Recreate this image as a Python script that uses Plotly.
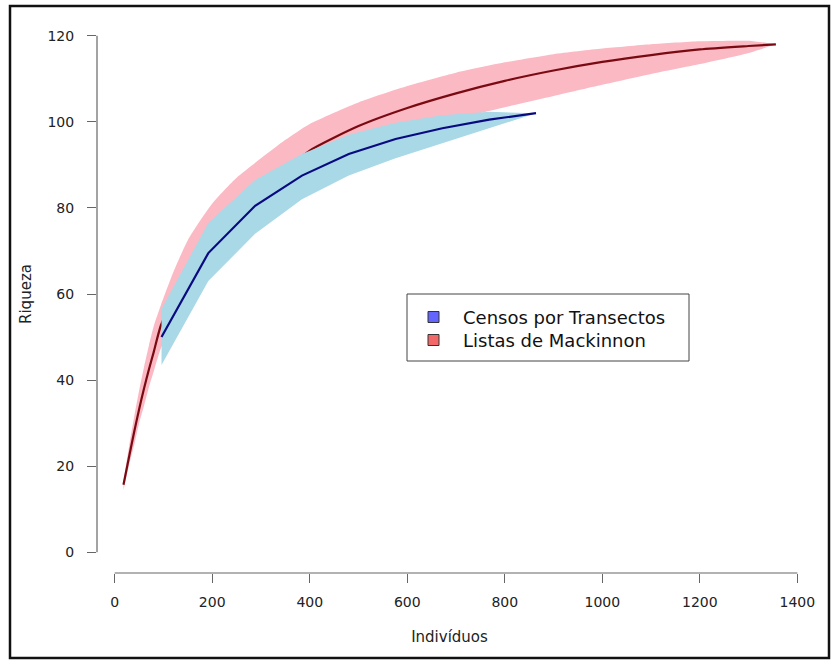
import plotly.graph_objects as go

# ---- data ----
mack_x  = [18, 30, 40, 50, 60, 70, 80, 95, 120, 150, 200, 250, 300, 350, 400, 500, 600, 700, 800, 900, 1000, 1100, 1200, 1300, 1356]
mack_y  = [15.7, 22.5, 28, 33.2, 38, 42.4, 46.5, 52.8, 58.5, 64, 72, 78, 83, 88.5, 93.3, 99, 103.2, 106.6, 109.5, 111.9, 113.9, 115.5, 116.8, 117.6, 118]
mack_hi = [16.5, 25, 31.5, 37.5, 43, 48, 52.5, 57.5, 65, 72.5, 81, 87, 91.5, 95.8, 99.5, 104.5, 108.3, 111.4, 113.8, 115.7, 117, 118, 118.7, 118.8, 118]
mack_lo = [14.5, 20.5, 25, 30, 34, 38.3, 42, 47.5, 53, 58, 65.5, 71.5, 76.5, 82.5, 87, 92.5, 97, 100.6, 103.4, 106, 108.6, 111.1, 113.4, 116, 118]

cens_x  = [96, 192, 288, 384, 480, 576, 672, 768, 864]
cens_y  = [50, 69.5, 80.5, 87.5, 92.5, 96, 98.5, 100.5, 102]
cens_hi = [56.5, 76.5, 86.5, 92.5, 97, 99.8, 101.5, 102.3, 102]
cens_lo = [43.5, 63, 74, 82, 87.5, 91.5, 95, 98.5, 102]

x_ticks = [0, 200, 400, 600, 800, 1000, 1200, 1400]
y_ticks = [0, 20, 40, 60, 80, 100, 120]
legend_names = ["Censos por Transectos", "Listas de Mackinnon"]
legend_colors = ["#6464FF", "#F26868"]

FONT = "DejaVu Sans, Liberation Sans, Arial, sans-serif"
W, H = 836, 664
L, R, T, B = 97, 34, 15, 91
pw, ph = W - L - R, H - T - B

def px2paper(px, py):
    return (px - L) / pw, (H - B - py) / ph

fig = go.Figure()

# red band + line
fig.add_trace(go.Scatter(x=mack_x + mack_x[::-1], y=mack_hi + mack_lo[::-1],
                         fill="toself", fillcolor="#FBB9C4", line=dict(width=0, shape="spline", smoothing=0.6),
                         mode="lines", showlegend=False, hoverinfo="skip"))
fig.add_trace(go.Scatter(x=mack_x, y=mack_y, mode="lines",
                         line=dict(color="#7A0A12", width=2.2, shape="spline", smoothing=0.6),
                         showlegend=False))
# blue band + line
fig.add_trace(go.Scatter(x=cens_x + cens_x[::-1], y=cens_hi + cens_lo[::-1],
                         fill="toself", fillcolor="#A9D8E6", line=dict(width=0),
                         mode="lines", showlegend=False, hoverinfo="skip"))
fig.add_trace(go.Scatter(x=cens_x, y=cens_y, mode="lines",
                         line=dict(color="#0A0A80", width=2.2), showlegend=False))

xr = [-36.3, 1409.5]
yr = [-4.8, 124.8]

fig.update_layout(
    width=W, height=H, margin=dict(l=L, r=R, t=T, b=B),
    paper_bgcolor="white", plot_bgcolor="white",
    font=dict(family=FONT, size=14, color="#222222"),
    showlegend=False,
    xaxis=dict(range=xr, tickvals=x_ticks, ticks="outside", ticklen=9, tickwidth=1,
               tickcolor="#666666", showgrid=False, zeroline=False, showline=False,
               ticklabelstandoff=7, tickfont=dict(size=14),
               title=dict(text="Indivíduos", font=dict(size=15), standoff=22)),
    yaxis=dict(range=yr, tickvals=y_ticks, ticks="outside", ticklen=9, tickwidth=1,
               tickcolor="#666666", showgrid=False, zeroline=False, showline=False,
               ticklabelstandoff=10, tickfont=dict(size=14),
               title=dict(text="Riqueza", font=dict(size=15), standoff=12)),
)

# R-style axis lines (span first to last tick only)
fig.add_shape(type="line", xref="x", yref="paper", x0=x_ticks[0], x1=x_ticks[-1], y0=0, y1=0,
              line=dict(color="#666666", width=1.2))
fig.add_shape(type="line", xref="paper", yref="y", x0=0, x1=0, y0=y_ticks[0], y1=y_ticks[-1],
              line=dict(color="#666666", width=1.2))

# legend box (R-style)
bx0, by0 = px2paper(407, 361)
bx1, by1 = px2paper(689, 294)
fig.add_shape(type="rect", xref="paper", yref="paper", x0=bx0, y0=by0, x1=bx1, y1=by1,
              line=dict(color="#444444", width=1), fillcolor="white", layer="above")
row_py = [317, 340]
for name, col, py in zip(legend_names, legend_colors, row_py):
    sx0, sy0 = px2paper(428, py + 5.5)
    sx1, sy1 = px2paper(439, py - 5.5)
    fig.add_shape(type="rect", xref="paper", yref="paper", x0=sx0, y0=sy0, x1=sx1, y1=sy1,
                  line=dict(color="#333333", width=1), fillcolor=col, layer="above")
    tx, ty = px2paper(461, py)
    fig.add_annotation(xref="paper", yref="paper", x=tx, y=ty, text=name, showarrow=False,
                       xanchor="left", yanchor="middle",
                       font=dict(family=FONT, size=18, color="#111111"))

# outer frame of the figure
fx0, fy0 = px2paper(10, 658)
fx1, fy1 = px2paper(829, 6)
fig.add_shape(type="rect", xref="paper", yref="paper", x0=fx0, y0=fy0, x1=fx1, y1=fy1,
              line=dict(color="#111111", width=2.5), layer="above")

fig.write_html("out.html")
